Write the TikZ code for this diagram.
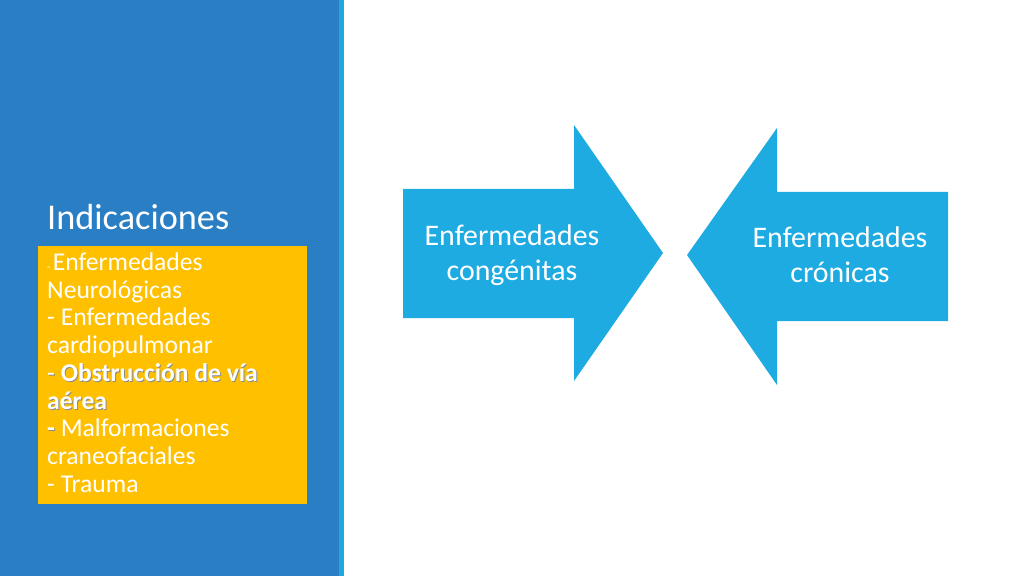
\documentclass[tikz,border=0pt]{standalone}
\usepackage{fontspec}
\setmainfont{Carlito}
\definecolor{panelblue}{RGB}{42,127,196}
\definecolor{stripblue}{RGB}{31,168,224}
\definecolor{arrowblue}{RGB}{29,171,226}
\definecolor{boxyellow}{RGB}{255,192,0}
\begin{document}
\begin{tikzpicture}[x=0.9375pt, y=-0.9375pt,
  itemtext/.style={anchor=base west, inner sep=0pt, text=white, font=\fontsize{24}{26}\selectfont},
  arrowtext/.style={anchor=base, inner sep=0pt, text=white, font=\fontsize{28}{34}\selectfont}]

  \useasboundingbox (0,0) rectangle (1024,576);

  % ***************** PANEL *****************
  \fill[panelblue] (0,0) rectangle (339,576);
  \fill[stripblue] (339,0) rectangle (344,576);

  \node[anchor=base west, inner sep=0pt, text=white, font=\fontsize{34}{40}\selectfont] (title) at (47,229) {Indicaciones};

  % ***************** LIST *****************
  \fill[boxyellow] (38,246) rectangle (307,504);

  \node[itemtext] (l1) at (47,270) {{\fontsize{10}{12}\selectfont- }Enfermedades};
  \node[itemtext] (l2) at (47,298) {Neurológicas};
  \node[itemtext] (l3) at (47,325) {- Enfermedades};
  \node[itemtext] (l4) at (47,353) {cardiopulmonar};
  \node[itemtext, text=black!45] at (48,382) {- \textbf{Obstrucción de vía}};
  \node[itemtext] (l5) at (47,381) {- \textbf{Obstrucción de vía}};
  \node[itemtext, text=black!45] at (48,410) {\textbf{aérea}};
  \node[itemtext] (l6) at (47,409) {\textbf{aérea}};
  \node[itemtext, text=black!45] at (48,437) {\textbf{-}};
  \node[itemtext] (l7) at (47,436) {\textbf{-} Malformaciones};
  \node[itemtext] (l8) at (47,464) {craneofaciales};
  \node[itemtext] (l9) at (47,492) {- Trauma};

  % ***************** ARROWS *****************
  \fill[arrowblue] (403,189) -- (574,189) -- (574,125) -- (663,253) -- (574,381) -- (574,318) -- (403,318) -- cycle;
  \node[arrowtext] (congA) at (512,245) {Enfermedades};
  \node[arrowtext] (congB) at (512,280) {congénitas};

  \fill[arrowblue] (948,192) -- (777,192) -- (777,128) -- (687,255) -- (777,385) -- (777,321) -- (948,321) -- cycle;
  \node[arrowtext] (cronA) at (840,247) {Enfermedades};
  \node[arrowtext] (cronB) at (840,282) {crónicas};

\end{tikzpicture}
\end{document}
